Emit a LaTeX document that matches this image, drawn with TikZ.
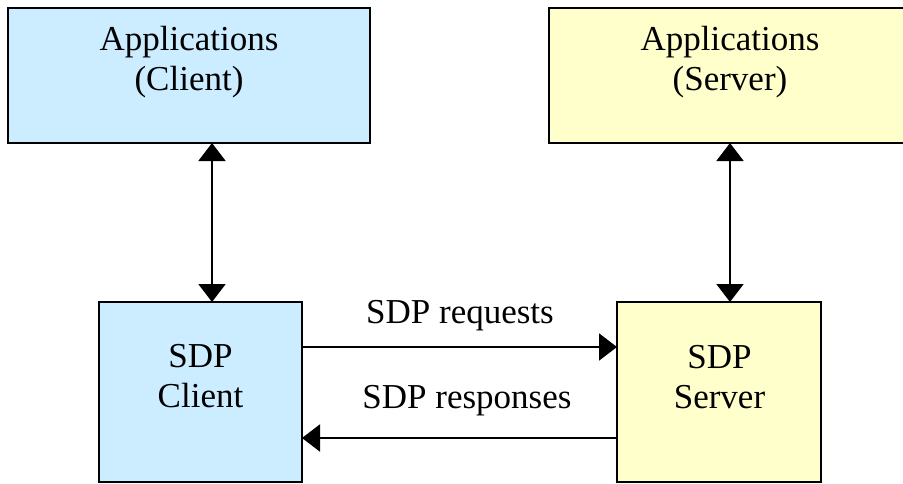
\documentclass[tikz,border=0pt]{standalone}
\usepackage{fontspec}
\setmainfont{Liberation Serif}
\usetikzlibrary{arrows.meta}
\definecolor{clientfill}{HTML}{CCECFF}
\definecolor{serverfill}{HTML}{FFFFCC}
\tikzset{
  box/.style={draw=black, line width=2.2pt, inner sep=0pt, outer sep=0pt},
  lbl/.style={font=\fontsize{35}{40}\selectfont, align=center, inner sep=0pt, anchor=base},
  link/.style={line width=2pt, -{Triangle[length=18pt,width=27pt]}},
  duplex/.style={line width=2pt, {Triangle[length=18pt,width=27pt]}-{Triangle[length=18pt,width=27pt]}}
}
\begin{document}
\begin{tikzpicture}[x=1pt,y=-1pt]
  \useasboundingbox (0,0) rectangle (903,483);

  % application boxes (top row)
  \node[box, fill=clientfill, minimum width=362pt, minimum height=135pt] (capp) at (189,75.5) {};
  \node[box, fill=serverfill, minimum width=362pt, minimum height=135pt] (sapp) at (730,75.5) {};
  % SDP boxes (bottom row)
  \node[box, fill=clientfill, minimum width=203pt, minimum height=180pt] (sdpc) at (200.5,392) {};
  \node[box, fill=serverfill, minimum width=204pt, minimum height=180pt] (sdps) at (719,392) {};

  % box texts (anchored on the baseline of the last line)
  \node[lbl] (tcapp) at (189,90) {Applications\\(Client)};
  \node[lbl] (tsapp) at (730,90) {Applications\\(Server)};
  \node[lbl] (tsdpc) at (200.5,407) {SDP\\Client};
  \node[lbl] (tsdps) at (719.5,408) {SDP\\Server};

  % vertical links between applications and SDP layers
  \draw[duplex] ([xshift=11.5pt]sdpc.north |- capp.south) -- ([xshift=11.5pt]sdpc.north);
  \draw[duplex] (sapp.south) -- (sapp.south |- sdps.north);

  % request / response links
  \draw[link] ([yshift=45pt]sdpc.east) -- ([yshift=45pt]sdpc.east -| sdps.west);
  \draw[link] ([yshift=-46pt]sdps.west) -- ([yshift=-46pt]sdps.west -| sdpc.east);

  \node[lbl] (treq) at (460,323) {SDP requests};
  \node[lbl] (tresp) at (467,408) {SDP responses};
\end{tikzpicture}
\end{document}
